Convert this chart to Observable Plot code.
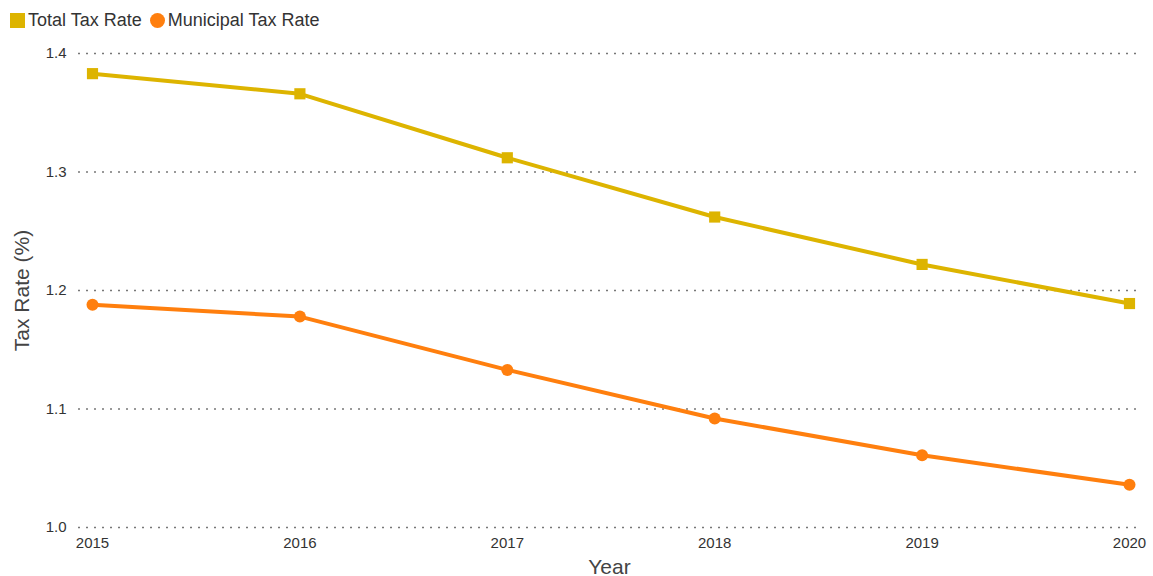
<!DOCTYPE html>
<html>
<head>
<meta charset="utf-8">
<script src="https://cdn.jsdelivr.net/npm/d3@7"></script>
<script src="https://cdn.jsdelivr.net/npm/@observablehq/plot@0.6"></script>
<style>
  body { margin: 0; background: #fff; font-family: "Liberation Sans", Arial, sans-serif; }
  #legend { height: 36px; display: flex; align-items: center; padding-left: 10px; font-size: 18px; color: #333; box-sizing: border-box; padding-top: 4px; }
  .item { display: flex; align-items: center; margin-right: 8px; }
  .sw { display: inline-block; width: 15px; height: 15px; margin-right: 3px; }
</style>
</head>
<body>
<div id="legend">
  <span class="item"><span class="sw" style="background:#DDB400"></span>Total Tax Rate</span>
  <span class="item"><span class="sw" style="background:#FF7F0E;border-radius:50%"></span>Municipal Tax Rate</span>
</div>
<div id="chart"></div>
<script>
const years = [2015, 2016, 2017, 2018, 2019, 2020];
const totalRate = [1.383, 1.366, 1.312, 1.262, 1.222, 1.189];
const municipalRate = [1.188, 1.178, 1.133, 1.092, 1.061, 1.036];
const yTicks = [1.0, 1.1, 1.2, 1.3, 1.4];

const total = years.map((y, i) => ({year: y, value: totalRate[i]}));
const muni = years.map((y, i) => ({year: y, value: municipalRate[i]}));

const chart = Plot.plot({
  width: 1153,
  height: 540,
  marginLeft: 78,
  marginRight: 13,
  marginTop: 17,
  marginBottom: 49,
  style: {fontFamily: "Liberation Sans, Arial, sans-serif", fontSize: "15px", color: "#333"},
  x: {domain: [2015, 2020], insetLeft: 14, insetRight: 11, ticks: years, tickFormat: d => String(d), tickSize: 0, tickPadding: 10, label: "Year", labelArrow: "none", labelAnchor: "center", labelOffset: 46},
  y: {domain: [1.0, 1.4], ticks: yTicks, tickFormat: d3.format(".1f"), tickSize: 0, tickPadding: 12, label: "Tax Rate (%)", labelArrow: "none", labelAnchor: "center", labelOffset: 64},
  marks: [
    Plot.ruleY(yTicks, {stroke: "#555", strokeDasharray: "2,6", strokeWidth: 1.3, strokeOpacity: 0.8}),
    Plot.line(total, {x: "year", y: "value", stroke: "#DDB400", strokeWidth: 4}),
    Plot.dot(total, {x: "year", y: "value", fill: "#DDB400", symbol: "square", r: 6.3}),
    Plot.line(muni, {x: "year", y: "value", stroke: "#FF7F0E", strokeWidth: 4}),
    Plot.dot(muni, {x: "year", y: "value", fill: "#FF7F0E", r: 6})
  ]
});
document.getElementById("chart").appendChild(chart);
const svg = d3.select(chart);
svg.selectAll("[aria-label='x-axis tick label'] text, [aria-label='y-axis tick label'] text").style("font-size", "15px").style("fill", "#333");
svg.selectAll("[aria-label='x-axis label'] text, [aria-label='y-axis label'] text").style("font-size", "21px").style("fill", "#444");
</script>
</body>
</html>
